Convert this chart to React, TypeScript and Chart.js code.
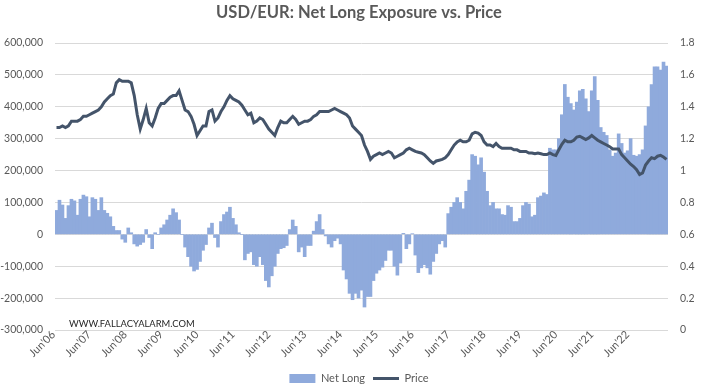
import { useEffect, useRef } from "react";
import { Chart, registerables } from "chart.js";

Chart.register(...registerables);

// ---- Data (monthly, Jun 2006 .. Jun 2023) ----
const startYear = 2006;
const startMonth = 5; // June (0-based)
const monthNames = ["Jan", "Feb", "Mar", "Apr", "May", "Jun", "Jul", "Aug", "Sep", "Oct", "Nov", "Dec"];

const tickLabels = [
  "Jun'06", "Jun'07", "Jun'08", "Jun'09", "Jun'10", "Jun'11", "Jun'12", "Jun'13", "Jun'14",
  "Jun'15", "Jun'16", "Jun'17", "Jun'18", "Jun'19", "Jun'20", "Jun'21", "Jun'22",
];

// Net long exposure, thousands of contracts
const netLongThousands = [
  75, 107, 92, 50, 90, 110, 105, 60, 110, 123,
  118, 55, 115, 110, 75, 115, 75, 66, 55, 25,
  12, 12, -15, -25, 20, 5, -30, -37, -32, -25,
  15, -10, -45, 5, 0, 20, 30, 45, 60, 80,
  68, 45, 0, -40, -70, -100, -115, -110, -85, -50,
  -32, 20, 35, -10, -40, 40, 62, 70, 85, 50,
  30, 5, 0, -80, -60, -55, -95, -100, -70, -95,
  -145, -165, -130, -100, -60, -45, -42, -35, 15, 45,
  25, -55, -40, -70, -35, -35, 10, 40, 62, 15,
  -5, -30, -40, -20, -12, -30, -112, -140, -185, -205,
  -185, -200, -175, -228, -195, -195, -145, -122, -112, -103,
  -82, -50, -50, -100, -128, -90, 3, -45, -30, 2,
  -65, -120, -105, -95, -105, -125, -85, -60, -30, -20,
  -40, 65, 85, 100, 115, 100, 80, 135, 170, 250,
  245, 218, 240, 195, 135, 90, 100, 80, 80, 62,
  60, 90, 85, 40, 40, 50, 90, 100, 95, 55,
  60, 115, 120, 130, 125, 270, 265, 265, 300, 375,
  470, 430, 410, 390, 415, 450, 455, 425, 385, 450,
  495, 420, 335, 320, 310, 265, 245, 255, 315, 285,
  255, 262, 300, 248, 245, 250, 265, 340, 400, 470,
  525, 525, 515, 540, 528,
];

// USD/EUR price
const price = [
  1.27, 1.27, 1.28, 1.27, 1.28, 1.31, 1.31, 1.31, 1.32, 1.34,
  1.34, 1.35, 1.36, 1.37, 1.38, 1.40, 1.43, 1.45, 1.47, 1.48,
  1.55, 1.57, 1.56, 1.56, 1.56, 1.55, 1.47, 1.35, 1.26, 1.32,
  1.39, 1.30, 1.28, 1.33, 1.39, 1.42, 1.42, 1.44, 1.46, 1.47,
  1.47, 1.50, 1.44, 1.38, 1.37, 1.34, 1.29, 1.22, 1.25, 1.28,
  1.28, 1.37, 1.38, 1.31, 1.33, 1.37, 1.40, 1.44, 1.47, 1.45,
  1.44, 1.43, 1.41, 1.38, 1.35, 1.36, 1.30, 1.31, 1.33, 1.32,
  1.29, 1.26, 1.24, 1.22, 1.27, 1.31, 1.30, 1.30, 1.32, 1.34,
  1.32, 1.29, 1.30, 1.31, 1.31, 1.32, 1.34, 1.35, 1.37, 1.37,
  1.37, 1.37, 1.38, 1.39, 1.38, 1.37, 1.36, 1.35, 1.33, 1.28,
  1.26, 1.24, 1.22, 1.16, 1.12, 1.07, 1.09, 1.10, 1.11, 1.10,
  1.11, 1.12, 1.11, 1.08, 1.09, 1.10, 1.11, 1.13, 1.14, 1.13,
  1.12, 1.115, 1.11, 1.10, 1.08, 1.06, 1.045, 1.06, 1.065, 1.07,
  1.08, 1.10, 1.13, 1.16, 1.18, 1.19, 1.18, 1.18, 1.19, 1.23,
  1.24, 1.235, 1.22, 1.18, 1.16, 1.16, 1.15, 1.17, 1.15, 1.14,
  1.14, 1.14, 1.14, 1.13, 1.13, 1.12, 1.12, 1.12, 1.11, 1.11,
  1.105, 1.11, 1.105, 1.10, 1.10, 1.11, 1.10, 1.095, 1.13, 1.165,
  1.19, 1.18, 1.18, 1.19, 1.21, 1.215, 1.205, 1.195, 1.205, 1.22,
  1.205, 1.19, 1.18, 1.17, 1.16, 1.15, 1.135, 1.135, 1.135, 1.10,
  1.08, 1.06, 1.04, 1.025, 1.005, 0.975, 0.985, 1.035, 1.06, 1.08,
  1.075, 1.09, 1.095, 1.085, 1.07,
];

const categories = netLongThousands.map((_, i) => {
  const m = (startMonth + i) % 12;
  const y = startYear + Math.floor((startMonth + i) / 12);
  return `${monthNames[m]}'${String(y % 100).padStart(2, "0")}`;
});

const FONT = "Lato";
const TEXT = "#595959";

const watermark = {
  id: "watermark",
  afterDatasetsDraw(chart: any) {
    const { ctx, chartArea } = chart;
    ctx.save();
    ctx.font = `9.4px ${FONT}`;
    ctx.fillStyle = "#262626";
    ctx.textBaseline = "middle";
    ctx.textAlign = "left";
    ctx.fillText("WWW.FALLACYALARM.COM", chartArea.left + 14, chartArea.bottom - 6);
    ctx.restore();
  },
};

export default function App() {
  const ref = useRef<HTMLCanvasElement | null>(null);

  useEffect(() => {
    if (!ref.current) return;
    const chart = new Chart(ref.current, {
      type: "bar",
      data: {
        labels: categories,
        datasets: [
          {
            type: "bar",
            label: "Net Long",
            data: netLongThousands.map((v) => v * 1000),
            backgroundColor: "#8FAADC",
            borderWidth: 0,
            barPercentage: 1,
            categoryPercentage: 1,
            yAxisID: "y",
            order: 1,
          },
          {
            type: "line",
            label: "Price",
            data: price,
            borderColor: "#44546A",
            backgroundColor: "#44546A",
            borderWidth: 3,
            pointRadius: 0,
            tension: 0,
            yAxisID: "y1",
            order: 0,
          },
        ] as any,
      },
      options: {
        responsive: false,
        animation: false,
        layout: { padding: { top: 0, left: 0, right: -14, bottom: -3 } },
        plugins: {
          title: {
            display: true,
            text: "USD/EUR: Net Long Exposure vs. Price",
            color: TEXT,
            font: { family: FONT, size: 16.5, weight: "bold" },
            padding: { top: 3, bottom: 20.2 },
          },
          legend: {
            position: "bottom",
            labels: {
              usePointStyle: true,
              pointStyleWidth: 26,
              boxHeight: 9,
              padding: 8,
              color: TEXT,
              font: { family: FONT, size: 11 },
              sort: (a: any, b: any) => a.datasetIndex - b.datasetIndex,
              generateLabels: (c: any) => {
                const items = Chart.defaults.plugins.legend.labels.generateLabels(c);
                return items.map((it: any) => ({
                  ...it,
                  pointStyle: it.datasetIndex === 0 ? "rect" : "line",
                  fillStyle: it.datasetIndex === 0 ? "#8FAADC" : "#44546A",
                  strokeStyle: it.datasetIndex === 0 ? "#8FAADC" : "#44546A",
                  lineWidth: it.datasetIndex === 0 ? 0 : 3,
                }));
              },
            },
          },
          tooltip: { enabled: false },
        },
        scales: {
          x: {
            grid: { display: false, drawTicks: false },
            border: { display: false },
            ticks: {
              autoSkip: false,
              minRotation: 45,
              maxRotation: 45,
              padding: -2,
              labelOffset: -3,
              color: TEXT,
              font: { family: FONT, size: 11 },
              callback: (_v: any, i: number) => (i % 12 === 0 ? tickLabels[i / 12] ?? null : null),
            },
            afterFit: (s: any) => {
              s.height = 35;
            },
          },
          y: {
            position: "left",
            min: -300000,
            max: 600000,
            grid: { color: "#D9D9D9", lineWidth: 1, drawTicks: false },
            border: { display: false },
            ticks: {
              stepSize: 100000,
              padding: 12,
              color: TEXT,
              font: { family: FONT, size: 10.5 },
              callback: (v: any) => Number(v).toLocaleString("en-US"),
            },
            afterFit: (s: any) => {
              s.width = 55;
            },
          },
          y1: {
            position: "right",
            min: 0,
            max: 1.8,
            grid: { display: false, drawTicks: false },
            border: { display: false },
            ticks: {
              stepSize: 0.2,
              padding: 12,
              color: TEXT,
              font: { family: FONT, size: 10.5 },
              callback: (v: any) => String(Math.round(Number(v) * 10) / 10),
            },
            afterFit: (s: any) => {
              s.width = 50;
            },
          },
        },
      } as any,
      plugins: [watermark],
    });
    return () => chart.destroy();
  }, []);

  return (
    <div style={{ position: "fixed", left: 0, top: 0, width: 704, height: 391, background: "#fff" }}>
      <canvas ref={ref} width={704} height={391} style={{ width: 704, height: 391, display: "block" }} />
    </div>
  );
}
